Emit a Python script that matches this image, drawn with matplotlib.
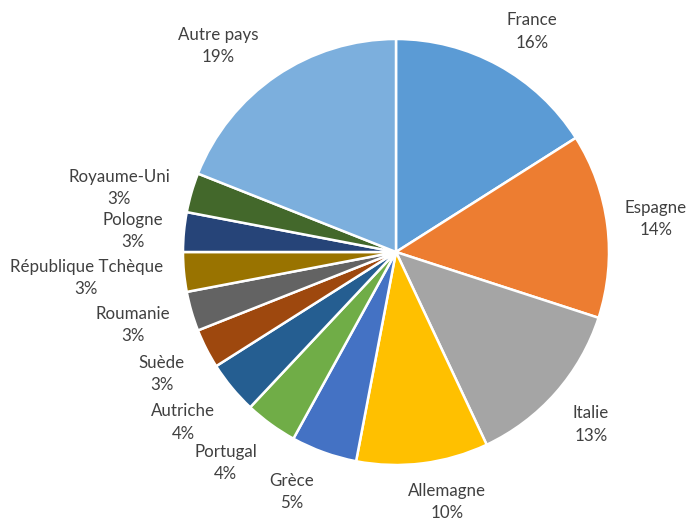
import matplotlib
matplotlib.use("Agg")
import matplotlib.pyplot as plt

# Share of each country (percent)
countries = ["France", "Espagne", "Italie", "Allemagne", "Grèce", "Portugal",
             "Autriche", "Suède", "Roumanie", "République Tchèque", "Pologne",
             "Royaume-Uni", "Autre pays"]
shares = [16, 14, 13, 10, 5, 4, 4, 3, 3, 3, 3, 3, 19]

colors = ["#5B9BD5", "#ED7D31", "#A5A5A5", "#FFC000", "#4472C4", "#70AD47",
          "#255E91", "#9E480E", "#636363", "#997300", "#264478", "#43682B",
          "#7CAFDD"]

# Label anchor points, in units of the pie radius
label_xy = [(0.64, 1.035), (1.22, 0.155), (0.915, -0.81), (0.24, -1.173),
            (-0.488, -1.127), (-0.80, -0.99), (-1.00, -0.80), (-1.10, -0.573),
            (-1.235, -0.343), (-1.455, -0.122), (-1.235, 0.099), (-1.30, 0.300),
            (-0.833, 0.967)]

fig = plt.figure(figsize=(6.87, 5.23), dpi=100)
ax = fig.add_axes([0, 0, 1, 1])

ax.pie(shares, colors=colors, startangle=90, counterclock=False, radius=1.0,
       wedgeprops=dict(edgecolor="white", linewidth=1.8))

for name, val, (x, y) in zip(countries, shares, label_xy):
    ax.text(x, y, f"{name}\n{val}%", ha="center", va="center",
            fontsize=12.2, family=["Lato", "DejaVu Sans"], color="#404040",
            linespacing=1.5)

ax.set_xlim(-396 / 213, (687 - 396) / 213)
ax.set_ylim(-(523 - 252) / 213, 252 / 213)
ax.set_aspect("auto")
ax.axis("off")

fig.savefig("out.png", dpi=100, facecolor="white")
